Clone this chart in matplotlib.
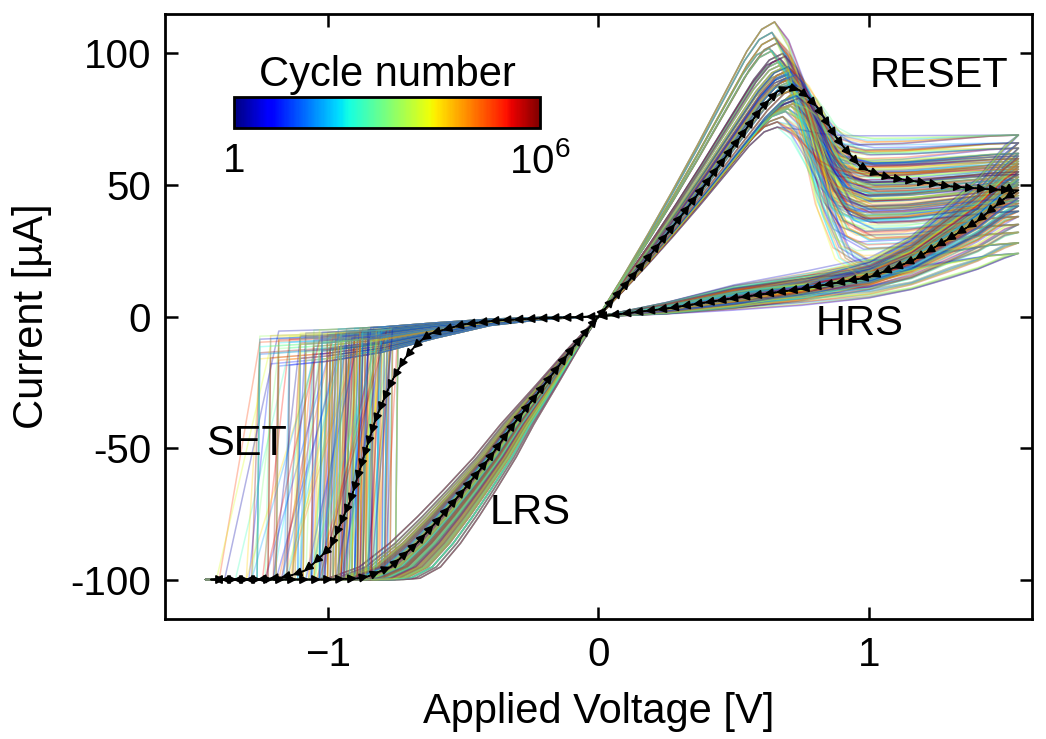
import numpy as np
import matplotlib
matplotlib.use("Agg")
import matplotlib.pyplot as plt
from matplotlib.colors import LogNorm
from matplotlib import cm

plt.rcParams['font.family'] = ['Liberation Sans', 'DejaVu Sans']
plt.rcParams['mathtext.fontset'] = 'custom'
plt.rcParams['mathtext.rm'] = 'Liberation Sans'

# --- branch shapes (V in volts, I in uA) ---
lrs_up_v = [0, 0.1, 0.2, 0.3, 0.4, 0.5, 0.6, 0.66, 0.712]
lrs_up_i = [0, 12, 24.5, 37.5, 51, 65, 79, 85.5, 87.7]
reset_v = [0.712, 0.76, 0.81, 0.86, 0.92, 1.0, 1.15, 1.3, 1.45, 1.55]
reset_i = [87.7, 82, 70, 56, 47, 44, 44.5, 46, 47.5, 48]
hrs_v = [1.55, 1.5, 1.4, 1.3, 1.155, 1.0, 0.75, 0.5, 0.25, 0]
hrs_i = [48, 45, 36.4, 30, 21, 15, 10.5, 7, 3, 0]
neg_hrs_v = [0, -0.2, -0.4, -0.6, -0.8, -1.0, -1.25]
neg_hrs_i = [0, -0.6, -2.0, -4.8, -8.0, -10.0, -11.5]
neg_lrs_v = [-1.45, -0.95, -0.867, -0.767, -0.67, -0.58, -0.498, -0.4, -0.314, -0.2, -0.1, 0]
neg_lrs_i = [-100, -100, -99.5, -95.2, -86.2, -76, -66, -53.5, -41, -26, -12.5, 0]
compliance = -100
v_min = -1.45

# --- per-cycle parameters estimated from the spread of the curves ---
peak_i = [88, 95, 82, 100, 91, 76, 104, 86, 93, 79, 97, 89, 108, 84, 92, 72, 99, 87, 94, 81,
          112, 90, 85, 96, 78, 102, 88, 93, 83, 98, 74, 91, 106, 86, 95, 80, 101, 89, 92, 84]
peak_v = [0.71, 0.70, 0.72, 0.68, 0.70, 0.68, 0.66, 0.71, 0.69, 0.70, 0.67, 0.72, 0.64, 0.73,
          0.70, 0.66, 0.69, 0.74, 0.71, 0.72, 0.65, 0.70, 0.75, 0.68, 0.69, 0.63, 0.73, 0.71,
          0.74, 0.67, 0.66, 0.72, 0.65, 0.76, 0.69, 0.71, 0.64, 0.70, 0.73, 0.74]
end_i = [48, 55, 40, 62, 50, 35, 58, 45, 66, 52, 28, 60, 47, 54, 42, 69, 51, 38, 57, 49, 64,
         44, 53, 32, 59, 46, 61, 50, 24, 56, 43]
hrs_pos = [1.0, 0.5, 1.4, 0.8, 1.7, 0.4, 1.2, 0.9, 1.5, 0.6, 1.3, 0.35, 1.0, 1.6, 0.7,
           1.8, 0.95, 0.5, 1.35, 1.1, 0.6, 1.55, 0.85, 1.25, 0.45, 1.45, 0.75, 1.05, 0.3]
set_v = [-0.92, -0.85, -1.02, -0.80, -0.95, -1.10, -0.88, -0.78, -0.98, -1.18, -0.83, -0.90,
         -1.05, -0.76, -0.93, -0.87, -1.25, -0.82, -0.97, -0.89, -1.08, -0.79, -0.94, -0.86,
         -1.00, -0.74, -0.91, -1.14, -0.84, -0.96, -0.81, -1.03, -0.88, -0.77, -0.99, -0.90, -1.21]
set_w = [0.01, 0.02, 0.01, 0.05, 0.01, 0.1, 0.02, 0.01, 0.03, 0.2, 0.01, 0.02, 0.01, 0.08,
         0.01, 0.03, 0.01, 0.15, 0.02, 0.01, 0.05, 0.01, 0.25]
hrs_neg = [1.0, 0.6, 1.3, 0.8, 1.5, 0.7, 1.1, 0.9, 1.7, 0.5, 1.2, 0.85, 1.4, 0.65, 1.0, 1.25,
           0.75, 1.6, 0.95]
lrs_s = [1.0, 0.92, 1.06, 0.85, 0.97, 1.1, 0.9, 0.8, 1.02, 0.95, 0.88, 1.12, 0.78, 0.99, 0.93,
         1.04, 0.86, 0.96, 0.82, 1.08, 0.91, 1.0, 0.84, 0.94, 1.05, 0.89, 0.76, 0.98, 1.15, 0.87,
         0.93, 1.01, 0.83, 0.97, 1.07, 0.9, 0.8, 0.95, 1.03, 0.88, 0.92]
n_cycles = 240

# --- averaged loop (black arrows) ---
mean_v = [0, 0.1, 0.2, 0.3, 0.4, 0.5, 0.6, 0.66, 0.712, 0.76, 0.81, 0.886, 0.97, 1.06, 1.155,
          1.3, 1.45, 1.55,
          1.5, 1.4, 1.3, 1.155, 1.0, 0.75, 0.5, 0.25, 0,
          -0.2, -0.376, -0.5, -0.62, -0.67, -0.72, -0.767, -0.82, -0.867, -0.915, -0.989,
          -1.077, -1.15, -1.25, -1.43,
          -1.2, -1.0, -0.867, -0.767, -0.67, -0.58, -0.498, -0.4, -0.314, -0.2, -0.1, 0]
mean_i = [0, 12, 24.5, 37.5, 51, 65, 79, 85.5, 87.7, 85, 79.3, 66.8, 56.5, 53, 51.6,
          49.5, 48.3, 48,
          45, 36.4, 30, 21, 15, 10.5, 7, 3, 0,
          -0.6, -1.5, -3.0, -6.5, -10.3, -16.7, -25.4, -38.3, -53.5, -69.8, -87.7,
          -96.4, -99, -100, -100,
          -100, -100, -99.5, -95.2, -86.2, -76, -66, -53.5, -41, -26, -12.5, 0]


def cycle_curve(k):
    ip = peak_i[k % len(peak_i)]
    vp = peak_v[k % len(peak_v)]
    ie = end_i[k % len(end_i)]
    h = hrs_pos[k % len(hrs_pos)]
    vs = set_v[k % len(set_v)]
    ws = set_w[k % len(set_w)]
    hn = hrs_neg[k % len(hrs_neg)]
    s = lrs_s[k % len(lrs_s)]

    up_v = np.array(lrs_up_v) * vp / 0.712
    up_i = np.array(lrs_up_i) * ip / 87.7
    rv = vp + (np.array(reset_v) - 0.712) * (1.55 - vp) / (1.55 - 0.712)
    ri = ie + (np.array(reset_i) - 48) * (ip - ie) / (87.7 - 48)
    hv = np.array(hrs_v)
    hi = h * np.array(hrs_i) + (ie - 48 * h) * (hv / 1.55) ** 3

    nv = np.array(neg_hrs_v)
    keep = nv > vs
    i_set = np.interp(-vs, -nv, np.array(neg_hrs_i)) * hn
    sv = np.concatenate([nv[keep], [vs, vs - ws, v_min]])
    si = np.concatenate([np.array(neg_hrs_i)[keep] * hn, [i_set, compliance, compliance]])

    lv = np.array(neg_lrs_v) * s
    lv[0] = v_min
    li = np.array(neg_lrs_i)

    v = np.concatenate([up_v, rv[1:], hv[1:], sv[1:], lv[1:]])
    i = np.concatenate([up_i, ri[1:], hi[1:], si[1:], li[1:]])
    return v, i


fig = plt.figure(figsize=(10.46, 7.39), dpi=100)
ax = fig.add_axes([0.1577, 0.1624, 0.8289, 0.8186])

cmap = plt.get_cmap('jet')
# interleave the drawing order so no single colour ends up on top
draw_order = [(j * 101) % n_cycles for j in range(n_cycles)]
for k in draw_order:
    v, i = cycle_curve(k)
    ax.plot(v, i, color=cmap(k / (n_cycles - 1)), lw=1.1, alpha=0.3)

ax.set_xlim(-1.6, 1.6)
ax.set_ylim(-115, 115)

# arrows along the averaged loop, spaced evenly on screen
pts = ax.transData.transform(np.column_stack([mean_v, mean_i]))
seg = np.hypot(np.diff(pts[:, 0]), np.diff(pts[:, 1]))
cum = np.concatenate([[0], np.cumsum(seg)])
s_new = np.arange(0, cum[-1], 12)
px = np.interp(s_new, cum, pts[:, 0])
py = np.interp(s_new, cum, pts[:, 1])
arr = ax.transData.inverted().transform(np.column_stack([px, py]))
ax.plot(mean_v, mean_i, color='black', lw=1.2)
for j in range(len(arr) - 1):
    ax.annotate('', xy=arr[j + 1], xytext=arr[j],
                arrowprops=dict(arrowstyle='-|>', color='black', lw=1.2,
                                mutation_scale=13, shrinkA=0, shrinkB=0))

ax.set_xticks([-1, 0, 1])
ax.set_yticks([-100, -50, 0, 50, 100])
ax.set_yticklabels(['-100', '-50', '0', '50', '100'])
ax.tick_params(direction='in', length=9, width=1.8, top=True, right=True,
               labelsize=29, pad=10)
ax.tick_params(axis='x', pad=12)
for sp in ax.spines.values():
    sp.set_linewidth(2)
ax.set_xlabel('Applied Voltage [V]', fontsize=30, labelpad=13)
ax.set_ylabel('Current [µA]', fontsize=30, labelpad=13)

ax.text(1.0, 91.5, 'RESET', fontsize=30, va='center')
ax.text(0.80, -2.7, 'HRS', fontsize=30, va='center')
ax.text(-1.45, -48.6, 'SET', fontsize=30, va='center')
ax.text(-0.40, -74.8, 'LRS', fontsize=30, va='center')

cax = fig.add_axes([0.2237, 0.8268, 0.2926, 0.042])
sm = cm.ScalarMappable(norm=LogNorm(1, 1e6), cmap='jet')
cb = fig.colorbar(sm, cax=cax, orientation='horizontal')
cb.ax.minorticks_off()
cb.set_ticks([1, 1e6])
cb.set_ticklabels(['1', r'$\mathregular{10^6}$'])
cax.tick_params(length=0, labelsize=29, pad=10)
cb.outline.set_linewidth(2)
cax.set_title('Cycle number', fontsize=30, pad=8)

fig.savefig('out.png', dpi=100)
